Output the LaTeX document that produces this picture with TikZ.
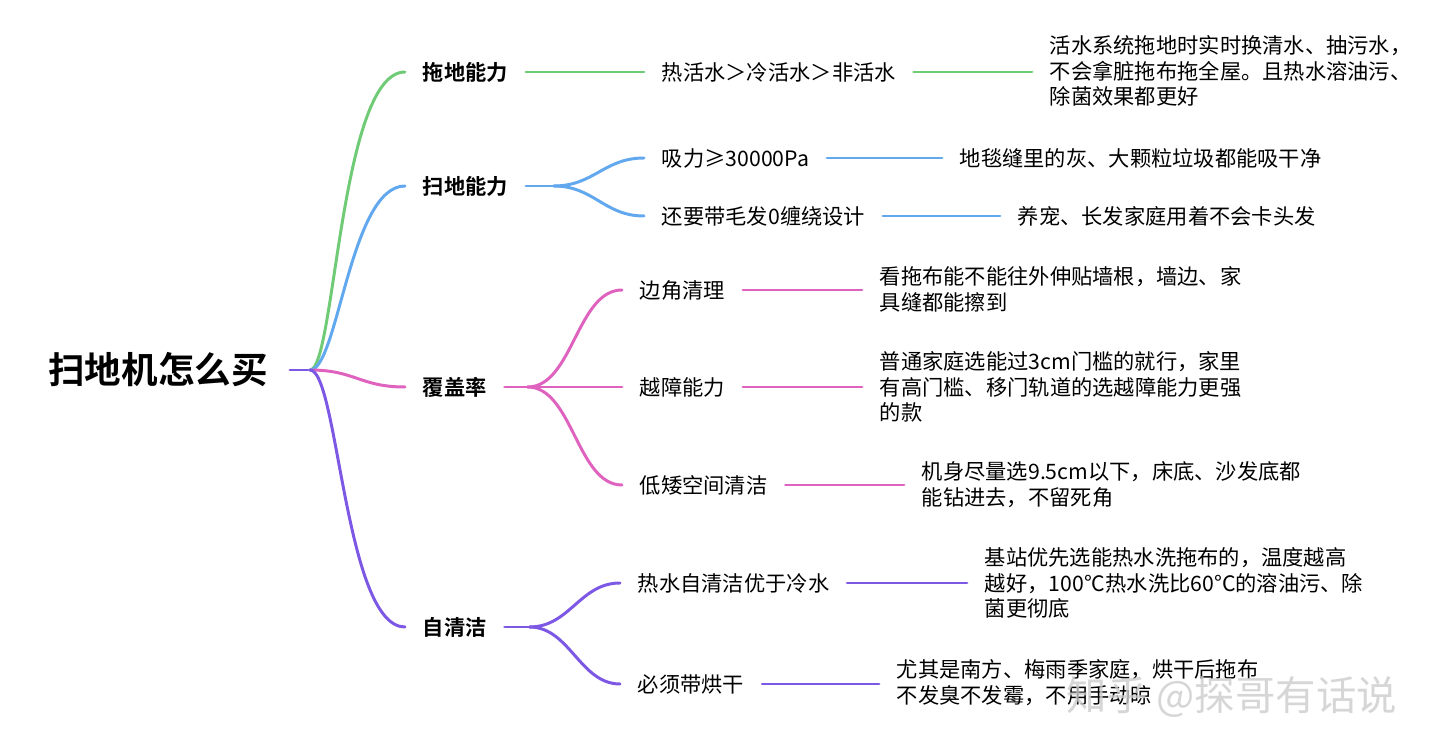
\documentclass[tikz,border=0pt]{standalone}
\usepackage{fontspec}
\setmainfont{Noto Sans CJK SC}[BoldFont={Noto Sans CJK SC Bold}]
\usetikzlibrary{positioning}
\definecolor{mmgreen}{RGB}{112,203,118}
\definecolor{mmblue}{RGB}{98,168,238}
\definecolor{mmpink}{RGB}{222,98,190}
\definecolor{mmpurple}{RGB}{124,88,228}
\tikzset{
  rootnode/.style={inner xsep=12.5pt, font=\fontsize{20.8}{24}\selectfont\bfseries},
  topic/.style={anchor=west, inner xsep=10pt, inner ysep=2pt, font=\fontsize{12.1}{14.7}\selectfont\bfseries},
  item/.style={anchor=west, inner xsep=10pt, inner ysep=2pt, font=\fontsize{12.1}{14.7}\selectfont},
  note/.style={item, align=left},
  branch/.style={line width=1.7pt, line cap=round}
}

\begin{document}
\begin{tikzpicture}[x=0.02cm, y=-0.02cm]
\useasboundingbox (0,0) rectangle (1440,756);
% Root
\node[rootnode] (root) at (158,370) {扫地机怎么买};
\coordinate (rootfork) at (310,370);
% Main topics
\node[topic] (mop) at (405,72) {拖地能力};
\node[topic] (sweep) at (405,186) {扫地能力};
\node[topic] (cover) at (405,387) {覆盖率};
\node[topic] (selfclean) at (405,627) {自清洁};
% Second level
\node[item] (livewater) at (644,72) {热活水＞冷活水＞非活水};
\node[item] (suction) at (644,158) {吸力≥30000Pa};
\node[item] (hair) at (644,216) {还要带毛发0缠绕设计};
\node[item] (corner) at (622,290) {边角清理};
\node[item] (obstacle) at (622,387) {越障能力};
\node[item] (lowspace) at (622,485) {低矮空间清洁};
\node[item] (hotwash) at (620,583) {热水自清洁优于冷水};
\node[item] (drying) at (620,684) {必须带烘干};
% Notes
\node[note] (livewaternote) at (1032,71) {活水系统拖地时实时换清水、抽污水，\\不会拿脏拖布拖全屋。且热水溶油污、\\除菌效果都更好};
\node[note] (suctionnote) at (942,158) {地毯缝里的灰、大颗粒垃圾都能吸干净};
\node[note] (hairnote) at (1000,216) {养宠、长发家庭用着不会卡头发};
\node[note] (cornernote) at (862,289) {看拖布能不能往外伸贴墙根，墙边、家\\具缝都能擦到};
\node[note] (obstaclenote) at (862,387) {普通家庭选能过3cm门槛的就行，家里\\有高门槛、移门轨道的选越障能力更强\\的款};
\node[note] (lowspacenote) at (904,485) {机身尽量选9.5cm以下，床底、沙发底都\\能钻进去，不留死角};
\node[note] (hotwashnote) at (967,583) {基站优先选能热水洗拖布的，温度越高\\越好，100°C热水洗比60°C的溶油污、除\\菌更彻底};
\node[note] (dryingnote) at (879,683) {尤其是南方、梅雨季家庭，烘干后拖布\\不发臭不发霉，不用手动晾};

% Root to topics
\draw[branch, mmpurple] (root.east) -- (rootfork);
\draw[branch, mmgreen] (rootfork) .. controls +(25,0) and +(-65,0) .. (mop.west);
\draw[branch, mmblue] (rootfork) .. controls +(28,0) and +(-55,0) .. (sweep.west);
\draw[branch, mmpink] (rootfork) .. controls +(45,0) and +(-45,0) .. (cover.west);
\draw[branch, mmpurple] (rootfork) .. controls +(28,0) and +(-60,0) .. (selfclean.west);

% Mopping
\draw[branch, mmgreen] (mop.east) -- (livewater.west);
\draw[branch, mmgreen] (livewater.east) -- (livewater.east -| livewaternote.west);
% Sweeping
\draw[branch, mmblue] (sweep.east) -- ++(28,0) coordinate (sweepfork);
\draw[branch, mmblue] (sweepfork) .. controls +(40,0) and +(-40,0) .. (suction.west);
\draw[branch, mmblue] (sweepfork) .. controls +(40,0) and +(-40,0) .. (hair.west);
\draw[branch, mmblue] (suction.east) -- (suction.east -| suctionnote.west);
\draw[branch, mmblue] (hair.east) -- (hair.east -| hairnote.west);
% Coverage
\draw[branch, mmpink] (cover.east) -- ++(23,0) coordinate (coverfork);
\draw[branch, mmpink] (coverfork) .. controls +(45,0) and +(-45,0) .. (corner.west);
\draw[branch, mmpink] (coverfork) -- (obstacle.west);
\draw[branch, mmpink] (coverfork) .. controls +(45,0) and +(-45,0) .. (lowspace.west);
\draw[branch, mmpink] (corner.east) -- (corner.east -| cornernote.west);
\draw[branch, mmpink] (obstacle.east) -- (obstacle.east -| obstaclenote.west);
\draw[branch, mmpink] (lowspace.east) -- (lowspace.east -| lowspacenote.west);
% Self cleaning
\draw[branch, mmpurple] (selfclean.east) -- ++(25,0) coordinate (selfcleanfork);
\draw[branch, mmpurple] (selfcleanfork) .. controls +(40,0) and +(-40,0) .. (hotwash.west);
\draw[branch, mmpurple] (selfcleanfork) .. controls +(40,0) and +(-40,0) .. (drying.west);
\draw[branch, mmpurple] (hotwash.east) -- (hotwash.east -| hotwashnote.west);
\draw[branch, mmpurple] (drying.east) -- (drying.east -| dryingnote.west);

% Watermark
\node[text=gray!40, opacity=0.8, font=\fontsize{23}{26}\selectfont] (mark) at (1232,697) {知乎 @探哥有话说};
\end{tikzpicture}
\end{document}
